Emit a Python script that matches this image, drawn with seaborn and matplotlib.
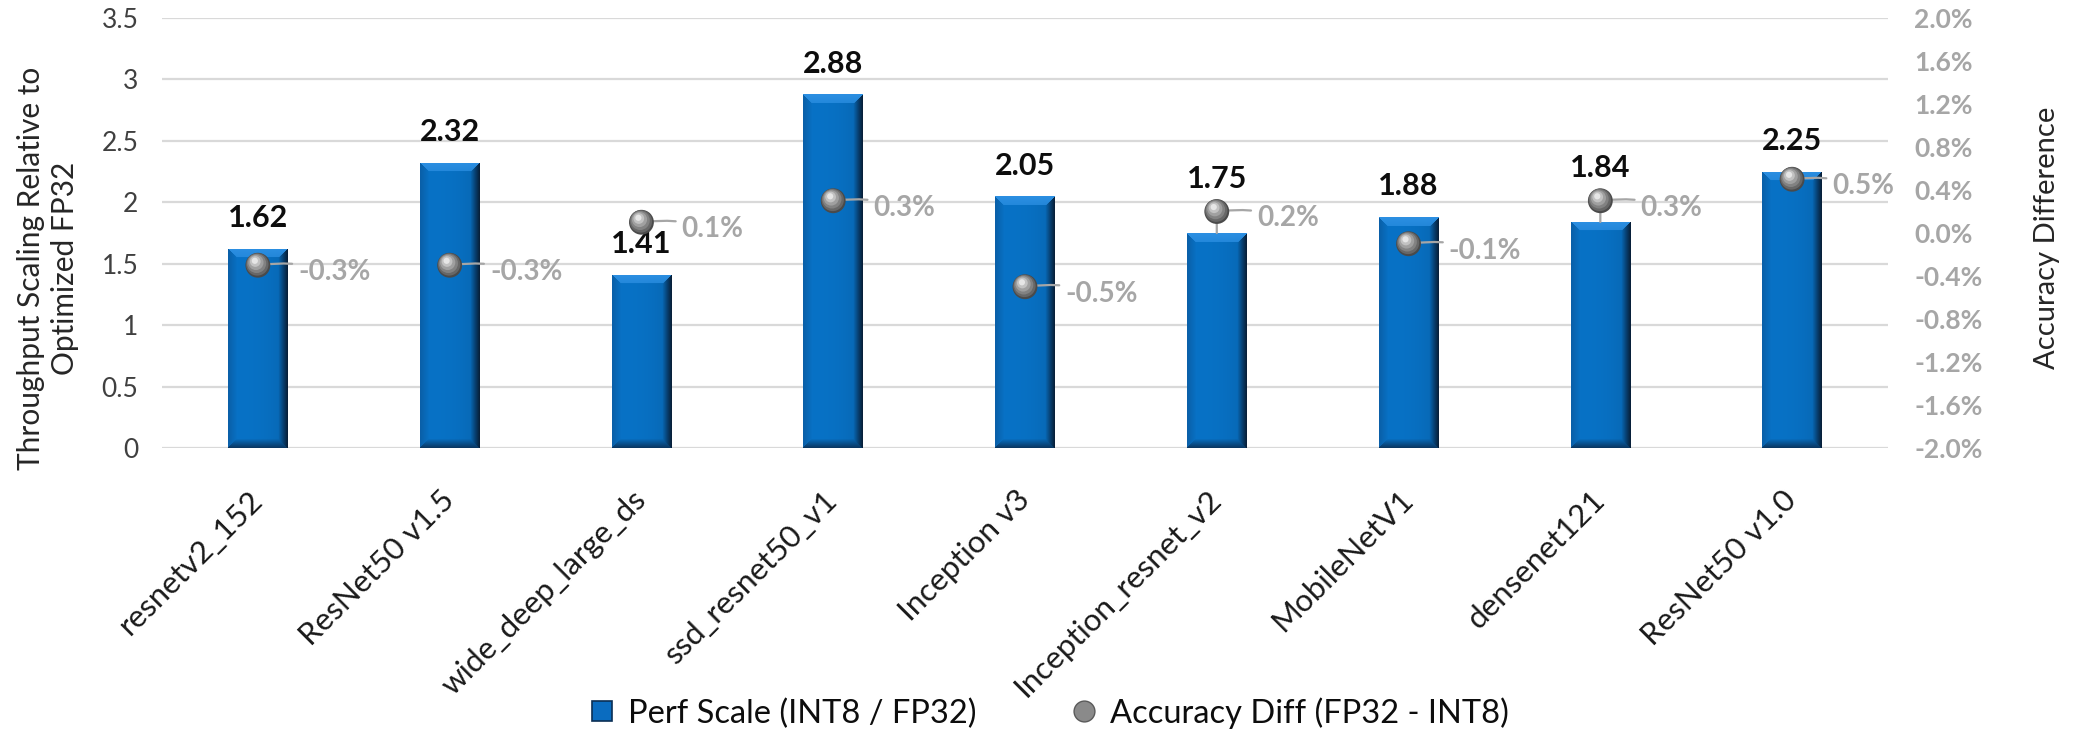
import numpy as np
import pandas as pd
import matplotlib
matplotlib.use("Agg")
import matplotlib.pyplot as plt
import matplotlib.transforms as mtransforms
from matplotlib.lines import Line2D
import seaborn as sns

# ---- data ----
models = ["resnetv2_152", "ResNet50 v1.5", "wide_deep_large_ds", "ssd_resnet50_v1",
          "Inception v3", "Inception_resnet_v2", "MobileNetV1", "densenet121", "ResNet50 v1.0"]
perf_scale = [1.62, 2.32, 1.41, 2.88, 2.05, 1.75, 1.88, 1.84, 2.25]
acc_diff = [-0.3, -0.3, 0.1, 0.3, -0.5, 0.2, -0.1, 0.3, 0.5]   # percent
# bar labels lifted clear of the spheres, joined to the bar by a leader line
raised_labels = ["Inception_resnet_v2", "densenet121"]

left_ticks = [0, 0.5, 1, 1.5, 2, 2.5, 3, 3.5]
left_tick_labels = ["0", "0.5", "1", "1.5", "2", "2.5", "3", "3.5"]
right_ticks = [-2.0, -1.6, -1.2, -0.8, -0.4, 0.0, 0.4, 0.8, 1.2, 1.6, 2.0]

df = pd.DataFrame({"model": models, "perf": perf_scale, "acc": acc_diff})

sns.set_theme(style="white")
plt.rcParams["font.family"] = ["Lato", "DejaVu Sans"]

W, H, DPI = 2077, 732, 100
fig = plt.figure(figsize=(W / DPI, H / DPI), dpi=DPI)
ax1 = fig.add_axes([162 / W, (H - 448) / H, (1888 - 162) / W, (448 - 18) / H])

BLUE = "#0872C6"
sns.barplot(data=df, x="model", y="perf", ax=ax1, color=BLUE, width=0.31,
            saturation=1, edgecolor="none", zorder=2)

ax1.set_xlim(-0.5, len(models) - 0.5)
ax1.set_ylim(0, 3.5)
ax1.set_yticks(left_ticks)
ax1.set_yticklabels(left_tick_labels)
ax1.set_xlabel("")
ax1.set_ylabel("")
for s in ax1.spines.values():
    s.set_visible(False)
ax1.yaxis.grid(True, color="#D9D9D9", lw=1.6, zorder=0)
ax1.set_axisbelow(True)
ax1.tick_params(axis="y", length=0, pad=17, labelsize=19, labelcolor="#404040")
ax1.tick_params(axis="x", length=0, pad=34, labelsize=22.5, labelcolor="#1a1a1a")
plt.setp(ax1.get_xticklabels(), rotation=45, ha="right", va="center",
         rotation_mode="anchor")

# ---- bevelled gradient fill for the bars ----
fig.canvas.draw()
c_main = np.array(matplotlib.colors.to_rgb("#0872C6"))
c_top = np.array(matplotlib.colors.to_rgb("#2C8FE2"))
c_left = np.array(matplotlib.colors.to_rgb("#0A5FA8"))
c_right = np.array(matplotlib.colors.to_rgb("#08203A"))
c_bot = np.array(matplotlib.colors.to_rgb("#0A3864"))


def bevel_image(wpx, hpx, bev=9):
    img = np.zeros((hpx, wpx, 3))
    jj, ii = np.meshgrid(np.arange(wpx), np.arange(hpx))
    dl, dr = jj, wpx - 1 - jj
    dt, db = ii, hpx - 1 - ii
    d = np.stack([dt, dr, db, dl])
    near = np.argmin(d, axis=0)
    dmin = np.min(d, axis=0)
    fx = jj / max(wpx - 1, 1)
    body = c_main[None, None, :] * (1 - 0.12 * fx[..., None] ** 3)
    img[:] = body
    t = np.clip(dmin / bev, 0, 1)[..., None]
    edge_cols = [c_top, c_right, c_bot, c_left]
    for k, col in enumerate(edge_cols):
        m = (near == k) & (dmin < bev)
        if k == 0:
            mixed = np.broadcast_to(col, body.shape) * (1 - 0.25 * t) + body * 0.25 * t
        else:
            mixed = col[None, None, :] * (1 - t) + body * t
        img[m] = mixed[m]
    return img


for p in ax1.patches:
    bb = p.get_window_extent()
    wpx, hpx = max(int(round(bb.width)), 2), max(int(round(bb.height)), 2)
    img = bevel_image(wpx, hpx)
    x0, y0 = p.get_x(), p.get_y()
    im = ax1.imshow(img, extent=[x0, x0 + p.get_width(), y0, y0 + p.get_height()],
                    aspect="auto", origin="upper", interpolation="bilinear", zorder=2.1)
    im.set_clip_path(p)
ax1.set_xlim(-0.5, len(models) - 0.5)
ax1.set_ylim(0, 3.5)

# ---- secondary axis: accuracy difference ----
ax2 = ax1.twinx()
ax2.set_ylim(-2, 2)
ax2.set_yticks(right_ticks)
ax2.set_yticklabels([f"{t:.1f}%" for t in right_ticks])
for s in ax2.spines.values():
    s.set_visible(False)
ax2.grid(False)
ax2.tick_params(axis="y", length=0, pad=19, labelsize=19, labelcolor="#A6A6A6")
for lab in ax2.get_yticklabels():
    lab.set_fontweight("bold")

xs = np.arange(len(models))

# bar value labels (drawn on ax2 so leader lines sit above the bars)
for i, v in enumerate(perf_scale):
    raised = models[i] in raised_labels
    off = 39 if raised else 22
    kw = {}
    if raised:
        kw["arrowprops"] = dict(arrowstyle="-", color="#A6A6A6", lw=1.6,
                                shrinkA=7, shrinkB=0)
    ax2.annotate(f"{v:.2f}", (i, v), xycoords=ax1.transData,
                 xytext=(0, off), textcoords="offset points",
                 ha="center", va="center", fontsize=22, fontweight="bold",
                 color="#0d0d0d", zorder=3, **kw)

# accuracy labels with leader lines
for i, v in enumerate(acc_diff):
    ax2.annotate(f"{v:.1f}%", (i, v), xytext=(29, -5), textcoords="offset points",
                 ha="left", va="center", fontsize=20, fontweight="bold",
                 color="#A6A6A6", zorder=3,
                 arrowprops=dict(arrowstyle="-", color="#A6A6A6", lw=1.6,
                                 shrinkA=2, shrinkB=0,
                                 connectionstyle="arc3,rad=0.12"))

# shaded spheres built from stacked discs
sphere_layers = [
    (320, "#4a4a4a", 0.0, 0.0),
    (260, "#676767", -0.4, 0.6),
    (190, "#828282", -0.9, 1.3),
    (120, "#a0a0a0", -1.4, 2.0),
    (60, "#c2c2c2", -1.9, 2.7),
    (20, "#e6e6e6", -2.2, 3.2),
]
for s, col, dx, dy in sphere_layers:
    tr = mtransforms.offset_copy(ax2.transData, fig=fig, x=dx, y=dy, units="points")
    ax2.scatter(xs, acc_diff, s=s, color=col, edgecolors="none", transform=tr,
                zorder=5)

# ---- axis titles ----
fig.text(48 / W, 1 - 268 / H, "Throughput Scaling Relative to\nOptimized FP32",
         rotation=90, ha="center", va="center", multialignment="center",
         fontsize=21.5, color="#262626", linespacing=1.25)
fig.text(2047 / W, 1 - 238 / H, "Accuracy Difference", rotation=90,
         ha="center", va="center", fontsize=21, color="#262626")

# ---- legend ----
handles = [
    Line2D([], [], marker="s", linestyle="", markersize=15,
           markerfacecolor="#0A6CC0", markeredgecolor="#0A2F55", markeredgewidth=1.2),
    Line2D([], [], marker="o", linestyle="", markersize=15,
           markerfacecolor="#8a8a8a", markeredgecolor="#5a5a5a", markeredgewidth=1.0),
]
fig.legend(handles, ["Perf Scale (INT8 / FP32)", "Accuracy Diff (FP32 - INT8)"],
           loc="center", bbox_to_anchor=(1047 / W, 1 - 713 / H), ncol=2,
           frameon=False, fontsize=23.5, handletextpad=0.3, columnspacing=2.8,
           handlelength=1.0, labelcolor="#0d0d0d")

fig.savefig("out.png", dpi=DPI)
